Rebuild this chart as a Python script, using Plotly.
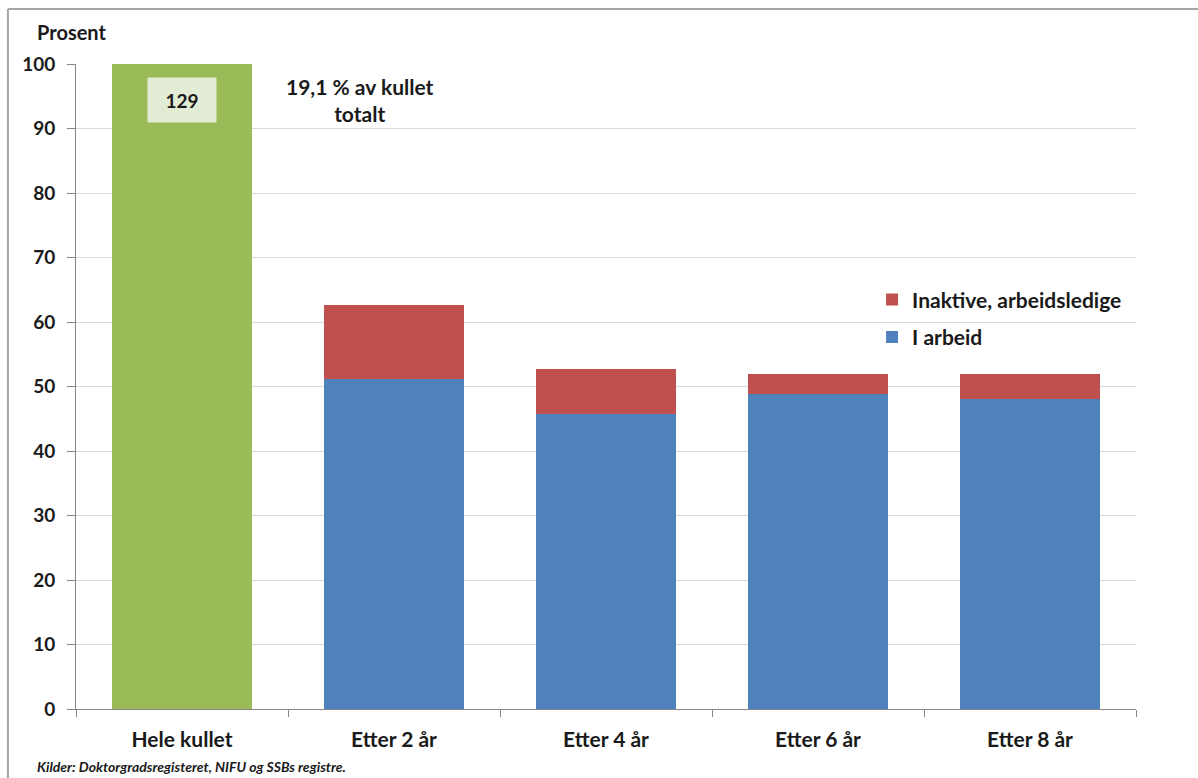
import plotly.graph_objects as go

categories = ["Hele kullet", "Etter 2 år", "Etter 4 år", "Etter 6 år", "Etter 8 år"]
total_values = [100, None, None, None, None]
i_arbeid = [None, 51.1, 45.8, 48.8, 48.0]
inaktive_total = [None, 62.6, 52.7, 51.9, 51.9]
inaktive = [None if (a is None or t is None) else round(t - a, 1) for a, t in zip(i_arbeid, inaktive_total)]
y_ticks = list(range(0, 101, 10))

FONT = "Lato"
TXT = "#1a1a1a"

fig = go.Figure()
fig.add_trace(go.Bar(x=categories, y=total_values, marker_color="#9BBB59", showlegend=False,
                     width=0.665, hoverinfo="skip", marker_line_width=0))
fig.add_trace(go.Bar(x=categories, y=i_arbeid, name="I arbeid", marker_color="#4F81BD",
                     width=0.665, legendgroup="a", legendrank=2, marker_line_width=0))
fig.add_trace(go.Bar(x=categories, y=inaktive, name="Inaktive, arbeidsledige", marker_color="#C0504D",
                     width=0.665, legendgroup="b", legendrank=1, marker_line_width=0))

fig.update_layout(
    width=1198, height=778,
    barmode="stack",
    paper_bgcolor="white", plot_bgcolor="white",
    margin=dict(l=76, r=62, t=64, b=69),
    font=dict(family=FONT, size=20, color=TXT),
    legend=dict(x=0.751, y=0.666, xanchor="left", yanchor="top",
                traceorder="grouped", tracegroupgap=7,
                font=dict(family=FONT, size=21, color=TXT, weight="bold"),
                bgcolor="rgba(0,0,0,0)"),
    xaxis=dict(showline=True, linecolor="#868686", linewidth=1,
               ticks="outside", tickson="boundaries", ticklen=7, tickcolor="#868686",
               ticklabelstandoff=12,
               tickfont=dict(family=FONT, size=21, color=TXT, weight="bold"),
               showgrid=False, range=[-0.5, 4.5]),
    yaxis=dict(range=[0, 100], tickvals=y_ticks, showline=True, linecolor="#868686", linewidth=1,
               ticks="outside", ticklen=8, tickcolor="#868686", ticklabelstandoff=8,
               showgrid=True, gridcolor="#D9D9D9", gridwidth=1, zeroline=False,
               tickfont=dict(family=FONT, size=19, color=TXT, weight="bold")),
    annotations=[
        dict(text="Prosent", xref="paper", yref="paper", x=-0.0387, y=1.0, yshift=32,
             xanchor="left", yanchor="middle", showarrow=False,
             font=dict(family=FONT, size=20, color=TXT, weight="bold")),
        dict(text="129", x=0, y=94.4, xref="x", yref="y", showarrow=False,
             bgcolor="#E2ECD5", width=60, height=36, borderpad=4,
             font=dict(family=FONT, size=19, color=TXT, weight="bold")),
        dict(text="19,1 % av kullet<br>totalt", x=0.84, y=94.4, xref="x", yref="y", showarrow=False,
             align="center", font=dict(family=FONT, size=21, color=TXT, weight="bold")),
        dict(text="<i>Kilder: Doktorgradsregisteret, NIFU og SSBs registre.</i>", xref="paper", yref="paper",
             x=-0.0387, y=0, yshift=-57, xanchor="left", yanchor="middle", showarrow=False,
             font=dict(family=FONT, size=14, color=TXT, weight="bold")),
    ],
    shapes=[
        dict(type="line", xref="paper", yref="paper", x0=-0.0642, x1=1.07, y0=1.0853, y1=1.0853,
             line=dict(color="#A6A6A6", width=2)),
        dict(type="line", xref="paper", yref="paper", x0=-0.0642, x1=-0.0642, y0=1.0853, y1=-0.12,
             line=dict(color="#A6A6A6", width=2)),
    ],
)

fig.write_html("out.html", config={"displayModeBar": False},
               post_script="document.body.style.margin='0';")
